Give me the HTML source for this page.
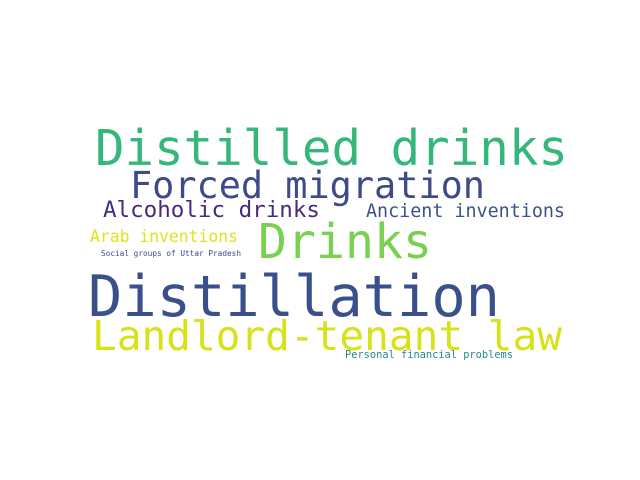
<!DOCTYPE html>
<html><head><meta charset="utf-8"><style>body{margin:0;background:#fff}svg{display:block}text{font-family:"DejaVu Sans Mono","Liberation Mono",monospace}</style></head>
<body>
<svg width="640" height="480">
<rect width="640" height="480" fill="#fff"/>
<text x="95" y="165" font-size="49" fill="#35b779" textLength="473" lengthAdjust="spacingAndGlyphs">Distilled drinks</text>
<text x="130" y="198" font-size="37" fill="#3e4a89" textLength="355" lengthAdjust="spacingAndGlyphs">Forced migration</text>
<text x="103" y="217" font-size="22.5" fill="#472c7a" textLength="217" lengthAdjust="spacingAndGlyphs">Alcoholic drinks</text>
<text x="366" y="217" font-size="18.4" fill="#3b528b" textLength="199" lengthAdjust="spacingAndGlyphs">Ancient inventions</text>
<text x="90" y="242" font-size="16.4" fill="#e0e21a" textLength="148" lengthAdjust="spacingAndGlyphs">Arab inventions</text>
<text x="258" y="258" font-size="48" fill="#7ad151" textLength="174" lengthAdjust="spacingAndGlyphs">Drinks</text>
<text x="101" y="256" font-size="7.7" fill="#3e4a89" textLength="140" lengthAdjust="spacingAndGlyphs">Social groups of Uttar Pradesh</text>
<text x="88" y="316" font-size="57" fill="#3b4f8a" textLength="412" lengthAdjust="spacingAndGlyphs">Distillation</text>
<text x="92" y="350" font-size="41" fill="#d8e219" textLength="470" lengthAdjust="spacingAndGlyphs">Landlord-tenant law</text>
<text x="345" y="358" font-size="10.3" fill="#26888e" textLength="168" lengthAdjust="spacingAndGlyphs">Personal financial problems</text>
</svg>
</body></html>
